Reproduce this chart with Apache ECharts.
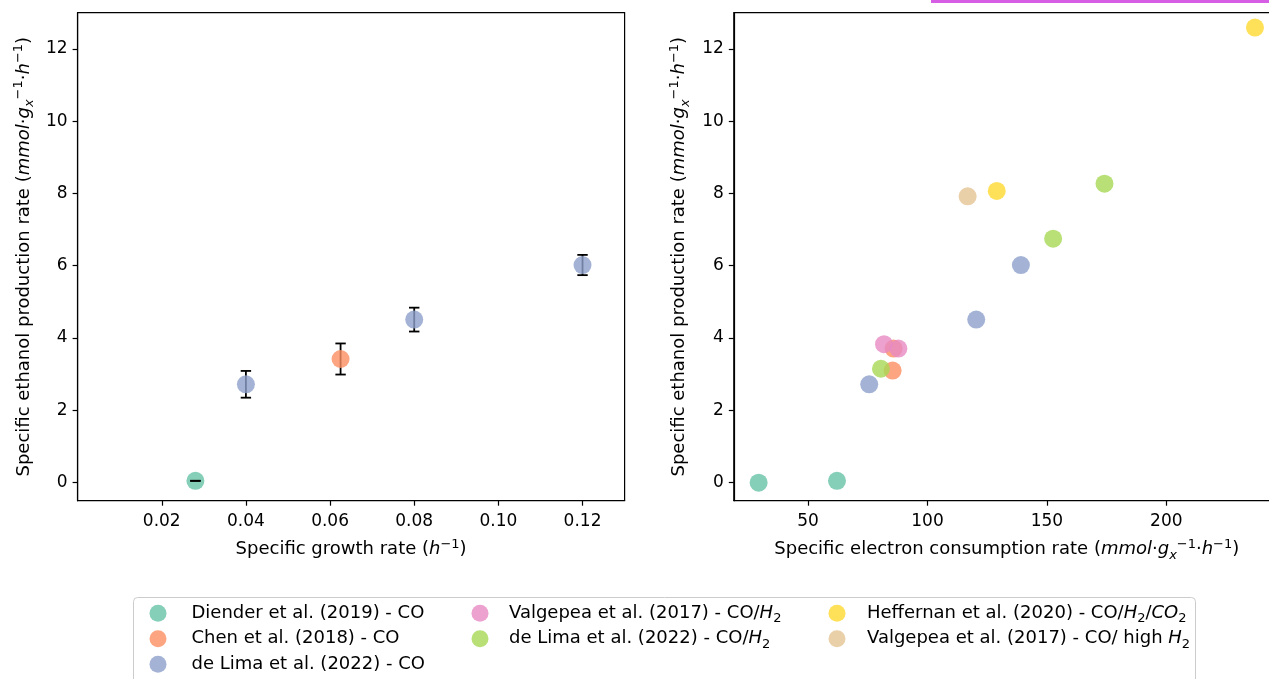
<!DOCTYPE html>
<html>
<head>
<meta charset="utf-8">
<script src="https://cdn.jsdelivr.net/npm/echarts@6/dist/echarts.min.js"></script>
<style>
html,body{margin:0;padding:0;background:#fff;overflow:hidden;width:1269px;height:679px;}
#c{width:1290px;height:679px;}
</style>
</head>
<body>
<div id="c"></div>
<script>
// ---------- data ----------
const seriesNames = [
  'Diender et al. (2019) - CO',
  'Chen et al. (2018) - CO',
  'de Lima et al. (2022) - CO',
  'Valgepea et al. (2017) - CO/H2',
  'de Lima et al. (2022) - CO/H2',
  'Heffernan et al. (2020) - CO/H2/CO2',
  'Valgepea et al. (2017) - CO/ high H2'
];
const legendLabels = [
  'Diender et al. (2019) - CO',
  'Chen et al. (2018) - CO',
  'de Lima et al. (2022) - CO',
  'Valgepea et al. (2017) - CO/{i|H}{s|2}',
  'de Lima et al. (2022) - CO/{i|H}{s|2}',
  'Heffernan et al. (2020) - CO/{i|H}{s|2}/{i|CO}{s|2}',
  'Valgepea et al. (2017) - CO/ high {i|H}{s|2}'
];
const palette = ['#66c2a5','#fc8d62','#8da0cb','#e78ac3','#a6d854','#ffd92f','#e5c494'];

// left panel: specific growth rate vs ethanol rate (with std)
const muDiender = [0.028];
const qDienderL = [0.05];
const errDienderL = [0.0];
const muChen = [0.0625];
const qChenL = [3.42];
const errChenL = [0.43];
const muDeLimaCO = [0.04, 0.08, 0.12];
const qDeLimaCOL = [2.72, 4.51, 6.02];
const errDeLimaCOL = [0.37, 0.33, 0.28];

// right panel: electron consumption rate vs ethanol rate
const eDiender = [29.3, 62.1];
const qDiender = [0.0, 0.05];
const eChen = [85.4, 85.8];
const qChen = [3.10, 3.71];
const eDeLimaCO = [75.6, 120.4, 139.1];
const qDeLimaCO = [2.72, 4.51, 6.02];
const eValgepea = [81.8, 87.8];
const qValgepea = [3.83, 3.71];
const eDeLimaH2 = [80.5, 152.6, 174.1];
const qDeLimaH2 = [3.15, 6.75, 8.27];
const eHeffernan = [129.0, 237.1];
const qHeffernan = [8.07, 12.59];
const eValgepeaHigh = [116.8];
const qValgepeaHigh = [7.92];

const yTicks = [0, 2, 4, 6, 8, 10, 12];
const xTicksLeft = [0.02, 0.04, 0.06, 0.08, 0.10, 0.12];
const xTicksRight = [50, 100, 150, 200];

// ---------- chart ----------
const FONT = 'DejaVu Sans';
const FS = 17;
const NFS = 18;
const LFS = 18;
function makeRich(base, small) {
  return {
    i: {fontStyle: 'italic', fontSize: base, fontFamily: FONT, lineHeight: 24},
    s: {fontSize: small, fontFamily: FONT, verticalAlign: 'bottom', lineHeight: small},
    si: {fontSize: small, fontStyle: 'italic', fontFamily: FONT, verticalAlign: 'bottom', lineHeight: small},
    p: {fontSize: small, fontFamily: FONT, verticalAlign: 'top', lineHeight: small}
  };
}
const nameStyle = {fontSize: NFS, fontFamily: FONT, color: '#000', lineHeight: 24, rich: makeRich(NFS, 13)};

const zip = (xs, ys) => xs.map((x, i) => [x, ys[i]]);
const zip3 = (xs, ys, es) => xs.map((x, i) => [x, ys[i], es[i]]);

function scatter(idx, data, axis) {
  return {
    type: 'scatter', name: seriesNames[idx], xAxisIndex: axis, yAxisIndex: axis,
    data: data, symbol: 'circle', symbolSize: 18, z: 3,
    itemStyle: {color: palette[idx], opacity: 0.8},
    emphasis: {disabled: true}, silent: true, animation: false
  };
}
function errBar(data, z) {
  return {
    type: 'custom', name: 'err', xAxisIndex: 0, yAxisIndex: 0, z: z, silent: true, animation: false,
    data: data,
    renderItem: function (params, api) {
      const x = api.value(0), y = api.value(1), e = api.value(2);
      const t = api.coord([x, y + e]);
      const b = api.coord([x, y - e]);
      const w = 5.2;
      const st = {stroke: '#000', lineWidth: 1.8};
      return {type: 'group', children: [
        {type: 'line', shape: {x1: t[0], y1: t[1], x2: b[0], y2: b[1]}, style: st},
        {type: 'line', shape: {x1: t[0] - w, y1: t[1], x2: t[0] + w, y2: t[1]}, style: st},
        {type: 'line', shape: {x1: b[0] - w, y1: b[1], x2: b[0] + w, y2: b[1]}, style: st}
      ]};
    }
  };
}

function yAxis(gridIndex, gap) {
  return {
    type: 'value', gridIndex: gridIndex, min: -0.5, max: 13,
    name: 'Specific ethanol production rate ({i|mmol}·{i|g}{si|x}{p|−1}·{i|h}{p|−1})',
    nameLocation: 'middle', nameGap: gap, nameTextStyle: nameStyle,
    axisLine: {show: true, onZero: false, lineStyle: {color: '#000', width: 1.2}},
    axisTick: {show: true, length: 5, lineStyle: {color: '#000', width: 1.2}, customValues: yTicks},
    axisLabel: {fontSize: FS, fontFamily: FONT, color: '#000', margin: 10, customValues: yTicks},
    splitLine: {show: false}
  };
}
function xAxis(gridIndex, min, max, ticks, name, fmt) {
  return {
    type: 'value', gridIndex: gridIndex, min: min, max: max,
    name: name, nameLocation: 'middle', nameGap: 37, nameTextStyle: nameStyle,
    axisLine: {show: true, onZero: false, lineStyle: {color: '#000', width: 1.2}},
    axisTick: {show: true, length: 5, lineStyle: {color: '#000', width: 1.2}, customValues: ticks},
    axisLabel: {fontSize: FS, fontFamily: FONT, color: '#000', margin: 12, customValues: ticks, formatter: fmt},
    splitLine: {show: false}
  };
}

const legendStyle = {fontSize: LFS, fontFamily: FONT, color: '#000', lineHeight: 24, rich: makeRich(LFS, 13)};
function legend(names, left, w) {
  return {
    orient: 'vertical', left: left, top: 601.3, height: 150, padding: 0, itemGap: 1.5,
    itemWidth: w, itemHeight: 17, icon: 'circle', selectedMode: false, z: 5,
    data: names,
    formatter: function (n) { return legendLabels[seriesNames.indexOf(n)]; },
    textStyle: legendStyle
  };
}

const chart = echarts.init(document.getElementById('c'), null, {renderer: 'canvas'});
chart.setOption({
  backgroundColor: '#fff',
  animation: false,
  grid: [
    {left: 77.6, top: 12.7, width: 547, height: 488, show: true, borderColor: '#000', borderWidth: 1.2, containLabel: false},
    {left: 733.8, top: 12.7, width: 546, height: 488, show: true, borderColor: '#000', borderWidth: 1.2, containLabel: false}
  ],
  xAxis: [
    xAxis(0, 0, 0.13, xTicksLeft, 'Specific growth rate ({i|h}{p|−1})', v => v.toFixed(2)),
    xAxis(1, 18.9, 247.5, xTicksRight, 'Specific electron consumption rate ({i|mmol}·{i|g}{si|x}{p|−1}·{i|h}{p|−1})', v => String(v))
  ],
  yAxis: [yAxis(0, 41), yAxis(1, 42)],
  legend: [
    legend([seriesNames[0], seriesNames[1], seriesNames[2]], 149.5, 57),
    legend([seriesNames[3], seriesNames[4]], 471.5, 48),
    legend([seriesNames[5], seriesNames[6]], 828.5, 50)
  ],
  graphic: [
    {type: 'rect', z: 1, shape: {x: 133.5, y: 597.5, width: 1062, height: 120, r: 4},
      style: {fill: 'rgba(255,255,255,0.8)', stroke: '#cccccc', lineWidth: 1}},
    {type: 'rect', z: 1, shape: {x: 931, y: 0, width: 360, height: 3}, style: {fill: '#d65ee4'}}
  ],
  series: [
    errBar(zip3(muChen, qChenL, errChenL), 2),
    errBar(zip3(muDeLimaCO, qDeLimaCOL, errDeLimaCOL), 2),
    scatter(0, zip(muDiender, qDienderL), 0),
    scatter(1, zip(muChen, qChenL), 0),
    scatter(2, zip(muDeLimaCO, qDeLimaCOL), 0),
    errBar(zip3(muDiender, qDienderL, errDienderL), 4),
    scatter(0, zip(eDiender, qDiender), 1),
    scatter(1, zip(eChen, qChen), 1),
    scatter(2, zip(eDeLimaCO, qDeLimaCO), 1),
    scatter(3, zip(eValgepea, qValgepea), 1),
    scatter(4, zip(eDeLimaH2, qDeLimaH2), 1),
    scatter(5, zip(eHeffernan, qHeffernan), 1),
    scatter(6, zip(eValgepeaHigh, qValgepeaHigh), 1)
  ]
});
</script>
</body>
</html>
